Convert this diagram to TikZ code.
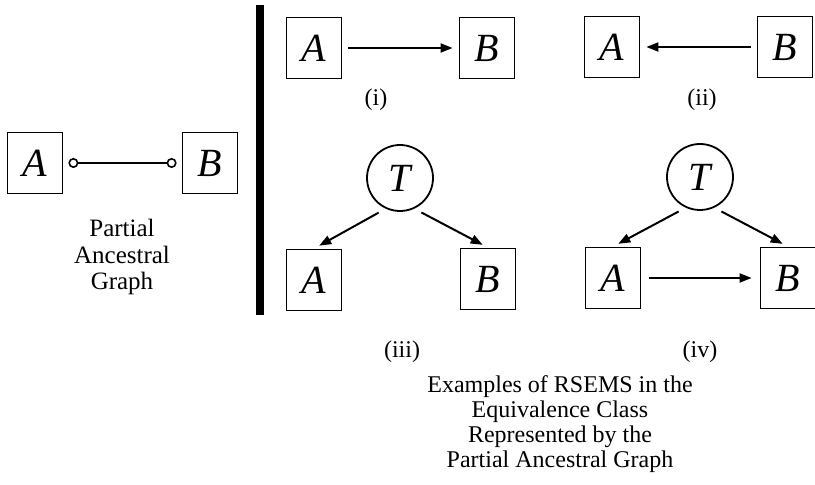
\documentclass[tikz,border=0pt]{standalone}
\usepackage{fontspec}
\setmainfont{Liberation Serif}
\usepackage{tikz}
\usetikzlibrary{arrows.meta}
\usetikzlibrary{calc, positioning}
\tikzstyle{varbox}=[rectangle, draw, line width=0.9pt, minimum width=27.5pt, minimum height=30.5pt, inner sep=0pt, font=\fontsize{20pt}{21pt}\selectfont\itshape]
\tikzstyle{latent}=[circle, draw, line width=0.9pt, minimum size=33pt, inner sep=0pt, font=\fontsize{20pt}{21pt}\selectfont\itshape]
\tikzstyle{caption}=[align=center, font=\fontsize{12pt}{12.5pt}\selectfont]

\begin{document}
\begin{tikzpicture}[x=0.5pt, y=-0.5pt]

\tikzset{>={Triangle[length=6pt, width=4.5pt]}}
\tikzset{every path/.style={line width=1pt}}

\useasboundingbox (0,0) rectangle (815,485);

% Partial ancestral graph
\node[varbox] (pA) at (35,163) {A};
\node[varbox] (pB) at (210,163) {B};
\draw[line width=0.8pt, {Circle[open, length=5pt]}-{Circle[open, length=5pt]}, shorten <=2.5pt, shorten >=2.5pt] (pA) -- (pB); % A o-o B
\node[caption, font=\fontsize{12.5pt}{13.3pt}\selectfont] (pcap) at (122,257) {Partial\\Ancestral\\Graph};

% Divider
\coordinate (bartop) at (260,5);
\coordinate (barbot) at (260,315);
\draw[line width=4pt] (bartop) -- (barbot);

% (i)
\node[varbox] (iA) at (314,48) {A};
\node[varbox] (iB) at (487,48) {B};
\draw[->, shorten <=3pt, shorten >=3pt] (iA) -- (iB); % A -> B
\node[caption] (icap) at (376,100) {(i)};

% (ii)
\node[varbox] (iiA) at (612,47) {A};
\node[varbox] (iiB) at (785,47) {B};
\draw[->, shorten <=3pt, shorten >=3pt] (iiB) -- (iiA); % B -> A
\node[caption] (iicap) at (702,100) {(ii)};

% (iii)
\node[latent] (iiiT) at (400,178) {T};
\node[varbox] (iiiA) at (314,280) {A};
\node[varbox] (iiiB) at (488,279) {B};
\draw[->, shorten <=4pt, shorten >=3pt] (iiiT.245) -- (iiiA.north); % T -> A
\draw[->, shorten <=4pt, shorten >=3pt] (iiiT.295) -- (iiiB.north); % T -> B
\node[caption] (iiicap) at (402,352) {(iii)};

% (iv)
\node[latent] (ivT) at (700,177) {T};
\node[varbox] (ivA) at (613,278) {A};
\node[varbox] (ivB) at (788,278) {B};
\draw[->, shorten <=4pt, shorten >=3pt] (ivT.245) -- (ivA.north); % T -> A
\draw[->, shorten <=4pt, shorten >=3pt] (ivT.295) -- (ivB.north); % T -> B
\draw[->, shorten <=4pt, shorten >=4pt] (ivA) -- (ivB); % A -> B
\node[caption] (ivcap) at (700,352) {(iv)};

% Equivalence class caption
\node[caption] (ecap) at (560,424) {Examples of RSEMS in the\\Equivalence Class\\Represented by the\\Partial Ancestral Graph};

\end{tikzpicture}
\end{document}
